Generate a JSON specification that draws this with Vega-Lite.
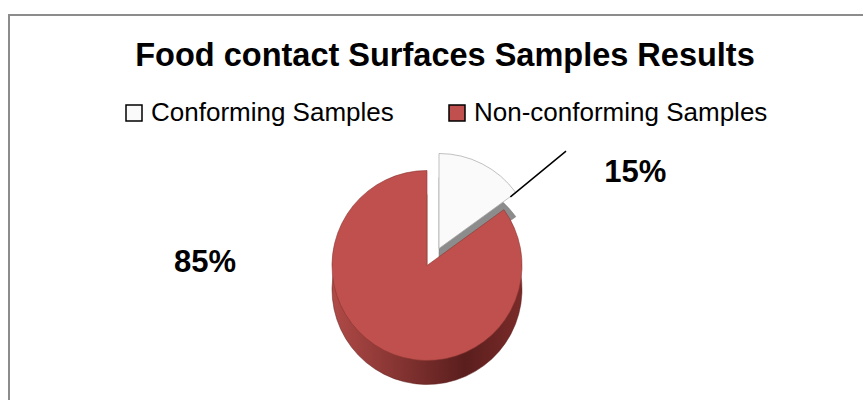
{
  "$schema": "https://vega.github.io/schema/vega-lite/v6.json",
  "width": 863,
  "height": 400,
  "autosize": {"type": "fit", "contains": "padding"},
  "padding": {"left": 9, "top": 15, "right": -4, "bottom": -4},
  "background": "white",
  "view": {"stroke": "#8C8C8C", "strokeWidth": 2},
  "title": {
    "text": "Food contact Surfaces Samples Results",
    "orient": "top",
    "anchor": "middle",
    "frame": "group",
    "offset": -83,
    "baseline": "alphabetic",
    "font": "Liberation Sans",
    "fontSize": 32.5,
    "fontWeight": "bold",
    "color": "#000000",
    "dx": 7
  },
  "data": {
    "values": [
      {"category": "Conforming Samples", "share": 0.15},
      {"category": "Non-conforming Samples", "share": 0.85}
    ]
  },
  "transform": [
    {"stack": "share", "groupby": [], "as": ["s0", "s1"], "sort": [{"field": "category", "order": "ascending"}]}
  ],
  "config": {
    "view": {"stroke": "#8C8C8C", "strokeWidth": 2},
    "legend": {
      "symbolType": "square",
      "symbolSize": 256,
      "symbolStrokeColor": "#000000",
      "symbolStrokeWidth": 1.5,
      "symbolOpacity": 1,
      "labelFont": "Liberation Sans",
      "labelFontSize": 26,
      "labelColor": "#000000",
      "labelOffset": 4,
      "columnPadding": 50,
      "padding": 0,
      "labelLimit": 400
    }
  },
  "layer": [
    {
      "transform": [{"filter": "datum.category == 'Conforming Samples'"}],
      "mark": {"type": "arc", "radius": 95, "x": {"expr": "width/2 + 1"}, "y": {"expr": "height/2 + 63"}, "color": "#8C8C8C", "stroke": "#7A7A7A", "strokeWidth": 0.5},
      "encoding": {
        "theta": {"field": "s0", "type": "quantitative", "scale": {"domain": [0, 1]}, "stack": null},
        "theta2": {"field": "s1"}
      }
    },
    {
      "transform": [{"filter": "datum.category == 'Conforming Samples'"}],
      "mark": {"type": "arc", "radius": 95, "x": {"expr": "width/2 + 1"}, "y": {"expr": "height/2 + 39"}, "stroke": "#A6A6A6", "strokeWidth": 0.7, "opacity": 1},
      "encoding": {
        "theta": {"field": "s0", "type": "quantitative", "scale": {"domain": [0, 1]}, "stack": null},
        "theta2": {"field": "s1"},
        "color": {
          "field": "category",
          "type": "nominal",
          "scale": {"domain": ["Conforming Samples", "Non-conforming Samples"], "range": ["#FAFAFA", "#C0504D"]},
          "legend": {"orient": "none", "legendX": 112, "legendY": 85, "direction": "horizontal", "title": null}
        }
      }
    },
    {
      "transform": [{"filter": "datum.category == 'Non-conforming Samples'"}],
      "mark": {
        "type": "arc", "radius": 95, "x": {"expr": "width/2 - 11"}, "y": {"expr": "height/2 + 80"},
        "color": {"gradient": "linear", "x1": 0, "x2": 1, "y1": 0, "y2": 0, "stops": [{"offset": 0, "color": "#B04A47"}, {"offset": 0.7, "color": "#5A1E1D"}, {"offset": 1, "color": "#7A2B29"}]},
        "stroke": "#5A1E1D", "strokeWidth": 0.5
      },
      "encoding": {
        "theta": {"field": "s0", "type": "quantitative", "scale": {"domain": [0, 1]}, "stack": null},
        "theta2": {"field": "s1"}
      }
    },
    {
      "transform": [{"filter": "datum.category == 'Non-conforming Samples'"}],
      "mark": {"type": "arc", "radius": 95, "x": {"expr": "width/2 - 11"}, "y": {"expr": "height/2 + 56"}, "stroke": "#8A3533", "strokeWidth": 0.6, "opacity": 1},
      "encoding": {
        "theta": {"field": "s0", "type": "quantitative", "scale": {"domain": [0, 1]}, "stack": null},
        "theta2": {"field": "s1"},
        "color": {
          "field": "category",
          "type": "nominal",
          "scale": {"domain": ["Conforming Samples", "Non-conforming Samples"], "range": ["#FAFAFA", "#C0504D"]},
          "legend": {"orient": "none", "legendX": 112, "legendY": 85, "direction": "horizontal", "title": null}
        }
      }
    },
    {
      "transform": [{"filter": "datum.category == 'Conforming Samples'"}],
      "mark": {"type": "arc", "radius": 180, "radius2": 108, "thetaOffset": -0.06, "theta2Offset": -0.06, "x": {"expr": "width/2 - 11"}, "y": {"expr": "height/2 + 56"}, "fill": null, "stroke": "#000000", "strokeWidth": 1.5},
      "encoding": {
        "theta": {"field": "s1", "type": "quantitative", "scale": {"domain": [0, 1]}, "stack": null},
        "theta2": {"field": "s1"}
      }
    },
    {
      "transform": [{"filter": "datum.category == 'Conforming Samples'"}],
      "mark": {"type": "text", "radius": 228, "thetaOffset": 1.152, "x": {"expr": "width/2 - 11"}, "y": {"expr": "height/2 + 56"}, "font": "Liberation Sans", "fontSize": 31, "fontWeight": "bold", "color": "#000000", "align": "center", "baseline": "middle"},
      "encoding": {
        "theta": {"field": "s0", "type": "quantitative", "scale": {"domain": [0, 1]}, "stack": null},
        "text": {"field": "share", "type": "quantitative", "format": ".0%"}
      }
    },
    {
      "transform": [{"filter": "datum.category == 'Non-conforming Samples'"}],
      "mark": {"type": "text", "radius": 222, "thetaOffset": 3.779, "x": {"expr": "width/2 - 11"}, "y": {"expr": "height/2 + 56"}, "font": "Liberation Sans", "fontSize": 31, "fontWeight": "bold", "color": "#000000", "align": "center", "baseline": "middle"},
      "encoding": {
        "theta": {"field": "s0", "type": "quantitative", "scale": {"domain": [0, 1]}, "stack": null},
        "text": {"field": "share", "type": "quantitative", "format": ".0%"}
      }
    }
  ]
}
